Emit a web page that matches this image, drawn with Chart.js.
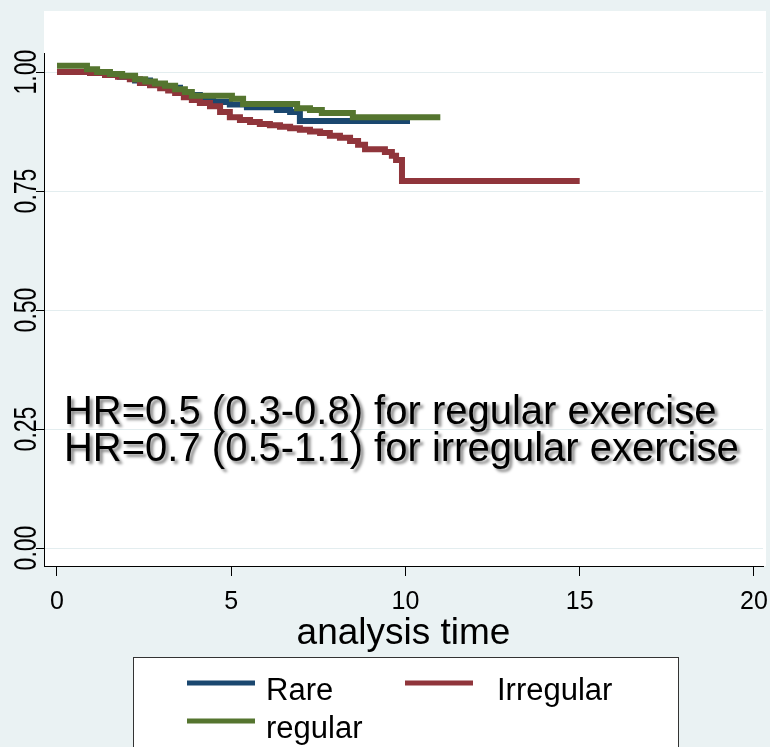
<!DOCTYPE html>
<html>
<head>
<meta charset="utf-8">
<title>Survival by exercise group</title>
<script src="https://cdn.jsdelivr.net/npm/chart.js@4.4.1/dist/chart.umd.min.js"></script>
<style>
  html, body { margin: 0; padding: 0; background: #eaf2f3; overflow: hidden; }
  #wrap { width: 770px; height: 747px; }
</style>
</head>
<body>
<div id="wrap"><canvas id="km" width="770" height="747"></canvas></div>
<script>
// Kaplan-Meier estimates: event times (years) and survival after each step
const rareTime = [0, 0.95, 1.38, 1.81, 2.24, 2.67, 3.10, 3.53, 3.82, 4.10, 4.48, 4.96, 5.45, 6.31, 6.69, 6.97, 10.13];
const rareSurv = [1.000, 0.998, 0.994, 0.990, 0.982, 0.975, 0.967, 0.958, 0.952, 0.945, 0.937, 0.932, 0.926, 0.920, 0.916, 0.897, 0.897];

const irregularTime = [0, 0.95, 1.38, 1.75, 2.09, 2.38, 2.67, 2.96, 3.19, 3.39, 3.64, 3.87, 4.10, 4.39, 4.68, 4.96, 5.25, 5.54, 5.82, 6.11, 6.40, 6.69, 6.97, 7.26, 7.55, 7.83, 8.12, 8.41, 8.64, 8.84, 9.41, 9.61, 9.73, 9.90, 15.0];
const irregularSurv = [1.000, 0.998, 0.994, 0.990, 0.985, 0.977, 0.972, 0.966, 0.961, 0.956, 0.947, 0.941, 0.935, 0.928, 0.916, 0.905, 0.899, 0.895, 0.891, 0.888, 0.885, 0.882, 0.879, 0.875, 0.872, 0.866, 0.862, 0.855, 0.847, 0.838, 0.832, 0.824, 0.815, 0.771, 0.771];

const regularTime = [0, 0.86, 1.15, 1.52, 1.87, 2.24, 2.53, 2.81, 3.10, 3.39, 3.67, 3.87, 5.02, 5.34, 6.89, 7.26, 7.60, 8.49, 11.0];
const regularSurv = [1.013, 1.006, 1.000, 0.996, 0.992, 0.985, 0.980, 0.976, 0.971, 0.964, 0.958, 0.950, 0.944, 0.933, 0.924, 0.920, 0.914, 0.905, 0.905];

const seriesNames = ['Rare', 'Irregular', 'regular'];
const xTicks = [0, 5, 10, 15, 20];
const xTickLabels = ['0', '5', '10', '15', '20'];
const yTicks = [0, 0.25, 0.5, 0.75, 1];
const yTickLabels = ['0.00', '0.25', '0.50', '0.75', '1.00'];
const xTitle = 'analysis time';
const noteLines = ['HR=0.5 (0.3-0.8) for regular exercise', 'HR=0.7 (0.5-1.1) for irregular exercise'];

// styling
const COLORS = ['#1a476f', '#90353b', '#55752f'];
const FONT = '"Liberation Sans", Arial, Helvetica, sans-serif';
const BG = '#eaf2f3';

function toPoints(ts, ss) { return ts.map((t, i) => ({ x: t, y: ss[i] })); }

const panelPlugin = {
  id: 'panel',
  beforeDraw(chart) {
    const { ctx, chartArea } = chart;
    ctx.save();
    ctx.fillStyle = BG;
    ctx.fillRect(0, 0, chart.width, chart.height);
    ctx.fillStyle = '#ffffff';
    ctx.fillRect(chartArea.left, 11, 766 - chartArea.left, chartArea.bottom - 11);
    ctx.restore();
  },
  afterDraw(chart) {
    const { ctx, scales } = chart;
    const xs = scales.x, ys = scales.y;
    ctx.save();
    ctx.fillStyle = '#000';

    // x tick labels
    ctx.font = '25px ' + FONT;
    ctx.textAlign = 'center';
    ctx.textBaseline = 'alphabetic';
    xTicks.forEach((v, i) => ctx.fillText(xTickLabels[i], xs.getPixelForValue(v), 609));

    // y tick labels, reading upwards
    yTicks.forEach((v, i) => {
      ctx.save();
      ctx.translate(36, ys.getPixelForValue(v));
      ctx.rotate(-Math.PI / 2);
      ctx.scale(0.92, 1.25);
      ctx.fillText(yTickLabels[i], 0, 0);
      ctx.restore();
    });

    // axis title
    ctx.font = '37px ' + FONT;
    ctx.fillText(xTitle, (chart.chartArea.left + chart.chartArea.right) / 2, 644);

    // hazard ratio note with soft drop shadow
    ctx.font = '40px ' + FONT;
    ctx.textAlign = 'left';
    ctx.shadowColor = 'rgba(0,0,0,0.45)';
    ctx.shadowOffsetX = 3;
    ctx.shadowOffsetY = 3;
    ctx.shadowBlur = 3;
    const nx = xs.getPixelForValue(0.2);
    noteLines.forEach((s, i) => ctx.fillText(s, nx, ys.getPixelForValue(0.26) + i * 37));
    ctx.restore();

    // legend box
    ctx.save();
    ctx.fillStyle = '#ffffff';
    ctx.fillRect(133, 657, 545, 100);
    ctx.strokeStyle = '#333333';
    ctx.lineWidth = 1;
    ctx.strokeRect(133.5, 657.5, 545, 100);
    const slots = [
      { lx: 187, ly: 683, tx: 266, ty: 700 },
      { lx: 405, ly: 683, tx: 497, ty: 700 },
      { lx: 187, ly: 721, tx: 266, ty: 738 }
    ];
    ctx.font = '31px ' + FONT;
    ctx.textAlign = 'left';
    chart.data.datasets.forEach((ds, i) => {
      const s = slots[i];
      ctx.strokeStyle = ds.borderColor;
      ctx.lineWidth = 5;
      ctx.beginPath();
      ctx.moveTo(s.lx, s.ly);
      ctx.lineTo(s.lx + 68, s.ly);
      ctx.stroke();
      ctx.fillStyle = '#000';
      ctx.fillText(ds.label, s.tx, s.ty);
    });
    ctx.restore();
  }
};

new Chart(document.getElementById('km'), {
  type: 'line',
  data: {
    datasets: [
      { label: seriesNames[0], data: toPoints(rareTime, rareSurv), borderColor: COLORS[0], order: 3 },
      { label: seriesNames[1], data: toPoints(irregularTime, irregularSurv), borderColor: COLORS[1], order: 2 },
      { label: seriesNames[2], data: toPoints(regularTime, regularSurv), borderColor: COLORS[2], order: 1 }
    ]
  },
  options: {
    responsive: false,
    animation: false,
    devicePixelRatio: 1,
    datasets: {
      line: {
        stepped: true,
        borderWidth: 6,
        pointRadius: 0,
        pointHoverRadius: 0,
        fill: false,
        borderJoinStyle: 'miter',
        borderCapStyle: 'butt'
      }
    },
    layout: { padding: { top: 53, right: 7, bottom: 0, left: 0 } },
    plugins: { legend: { display: false }, tooltip: { enabled: false } },
    scales: {
      x: {
        type: 'linear',
        min: -0.373,
        max: 20.26,
        afterBuildTicks: s => { s.ticks = xTicks.map(v => ({ value: v })); },
        afterFit: s => { s.height = 181; },
        ticks: { display: false },
        grid: { drawOnChartArea: false, drawTicks: true, tickLength: 10, tickColor: '#000', tickWidth: 1 },
        border: { display: true, color: '#000', width: 1 }
      },
      y: {
        type: 'linear',
        min: -0.0378,
        max: 1.04,
        afterBuildTicks: s => { s.ticks = yTicks.map(v => ({ value: v })); },
        afterFit: s => { s.width = 44; },
        ticks: { display: false },
        grid: { color: '#e3edef', lineWidth: 1, drawTicks: true, tickLength: 8, tickColor: '#000', tickWidth: 1 },
        border: { display: true, color: '#000', width: 1 }
      }
    }
  },
  plugins: [panelPlugin]
});
</script>
</body>
</html>
